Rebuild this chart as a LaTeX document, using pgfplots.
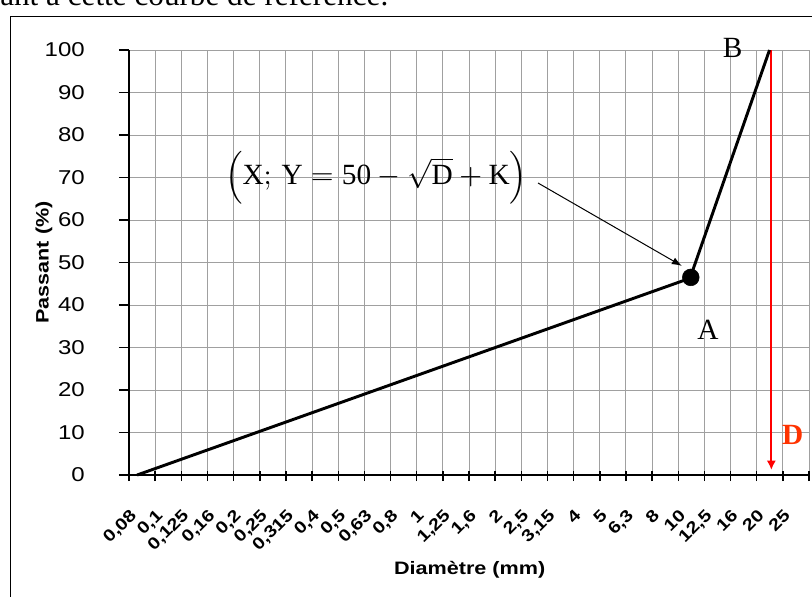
\documentclass[border=0pt]{standalone}
\usepackage{fontspec}
\usepackage{graphicx}
\usepackage{pgfplots}
\pgfplotsset{compat=1.18}
\usetikzlibrary{arrows.meta}
\newfontfamily\arialw{Liberation Sans}[FakeStretch=1.2]
\newfontfamily\tnr{Liberation Serif}
\definecolor{gridgray}{RGB}{160,160,160}
\definecolor{dred}{RGB}{255,51,0}

\begin{document}
\begin{tikzpicture}
\path[use as bounding box] (0pt,0pt) rectangle (609pt,-447pt);
% frame and cut text above the chart (1 unit = 1 px)
\begin{scope}[x=0.75pt,y=-0.75pt]
  \draw[line width=0.75pt] (10,16) rectangle (840,640);
  \node[anchor=base west, inner sep=0pt] at (0,5) {\tnr\fontsize{23.4}{28}\selectfont ant à cette courbe de référence.};
\end{scope}
\begin{axis}[
    at={(96.75pt,-356.25pt)}, anchor=south west,
    scale only axis, width=510pt, height=318.75pt,
    xmin=0, xmax=26, ymin=0, ymax=100,
    axis lines=left,
    axis line style={-, black, line width=1.1pt},
    tick align=outside,
    major tick length=7.5pt,
    tick style={black, line width=1.1pt},
    x tick style={yshift=3pt},
    xtick={0,...,26},
    xticklabels={{0,08},{0,1},{0,125},{0,16},{0,2},{0,25},{0,315},{0,4},{0,5},{0,63},{0,8},{1},{1,25},{1,6},{2},{2,5},{3,15},{4},{5},{6,3},{8},{10},{12,5},{16},{20},{25},{}},
    ytick={0,10,...,100},
    grid=major,
    major grid style={gridgray, line width=0.75pt},
    xticklabel style={font=\arialw\bfseries\fontsize{12.5}{14}\selectfont, rotate=45, anchor=north east, inner sep=0pt},
    xticklabel shift=17pt,
    yticklabel style={font=\arialw\fontsize{15}{18}\selectfont, anchor=east, inner sep=0pt, xshift=-10.5pt},
    yticklabel shift=15pt,
    /pgf/number format/assume math mode=true,
    xlabel={Diamètre (mm)},
    ylabel={Passant (\%)},
    xlabel style={font=\arialw\bfseries\fontsize{13.5}{16}\selectfont, at={(axis description cs:0.501,-0.2235)}, anchor=center},
    ylabel style={font=\arialw\bfseries\fontsize{13.5}{16}\selectfont, at={(axis description cs:-0.125,0.5)}, anchor=center},
    clip=false,
  ]
  % D: vertical red arrow
  \addplot[red, line width=1.5pt, -{Latex[length=7pt,width=7pt]}] coordinates {(24.56,100) (24.56,1.2)};
  % reference curve
  \addplot[black, line width=2.2pt, no marks] coordinates {(0.31,0) (21.45,46.3) (24.49,100)};
  % point A
  \addplot[only marks, mark=*, mark size=6.3pt, black] coordinates {(21.48,46.5)};

  \node[inner sep=0pt] at (axis cs:9.45,70) {\scalebox{2.2}{\tnr $\Big(\mbox{X};\,\mbox{Y}=\mbox{50}-\sqrt{\mbox{D}}+\mbox{K}\Big)$}};
  \draw[black, line width=0.75pt, -{Latex[length=7.5pt,width=5.5pt]}] (axis cs:15.64,68.7) -- (axis cs:21.14,49.2);
  \node[font=\tnr\fontsize{22}{26}\selectfont, inner sep=0pt] at (axis cs:23.08,100.5) {B};
  \node[font=\tnr\fontsize{22}{26}\selectfont, inner sep=0pt] at (axis cs:22.14,34.2) {A};
  \node[font=\tnr\bfseries\fontsize{22}{26}\selectfont, text=dred, inner sep=0pt] at (axis cs:25.38,9.4) {D};
\end{axis}
\end{tikzpicture}
\end{document}
